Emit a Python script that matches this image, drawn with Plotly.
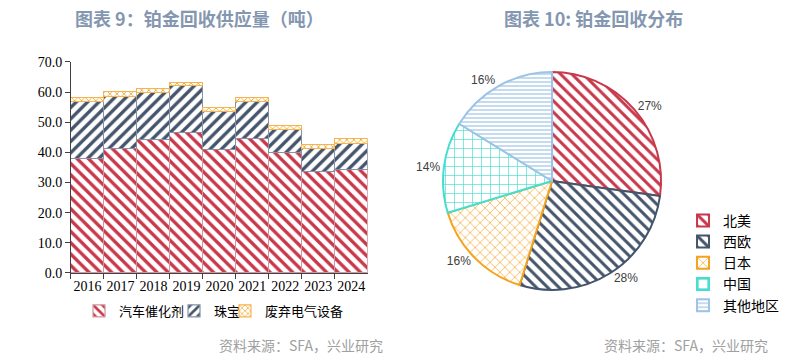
import plotly.graph_objects as go

years = ["2016", "2017", "2018", "2019", "2020", "2021", "2022", "2023", "2024"]
auto_catalyst = [37.7, 41.2, 44.1, 46.5, 40.8, 44.3, 39.9, 33.6, 34.2]
jewelry = [19.1, 17.3, 15.7, 15.5, 12.7, 12.5, 7.7, 7.6, 8.7]
electrical = [1.1, 1.4, 1.1, 1.2, 1.1, 1.3, 1.2, 1.3, 1.4]
bar_names = ["汽车催化剂", "珠宝", "废弃电气设备"]

regions = ["北美", "西欧", "日本", "中国", "其他地区"]
region_share = [27.2, 27.6, 15.5, 13.5, 16.2]
region_text = ["27%", "28%", "16%", "14%", "16%"]

RED = "#C8374A"
NAVY = "#44546A"
ORANGE = "#F5A21E"
CYAN = "#45DDD0"
LBLUE = "#9DC3E6"

fig = go.Figure()

bar_specs = [
    (auto_catalyst, bar_names[0], RED, "\\", 8, 0.42, "rgba(205,150,160,1)", "legend"),
    (jewelry, bar_names[1], NAVY, "/", 8, 0.42, "rgba(135,145,165,1)", "legend3"),
    (electrical, bar_names[2], ORANGE, "x", 5, 0.3, "rgba(245,180,80,1)", "legend4"),
]
for vals, name, col, shape, size, sol, lc, lg in bar_specs:
    fig.add_trace(go.Bar(
        x=years, y=vals, name=name, legend=lg,
        marker=dict(color="white", line=dict(color=lc, width=1.2),
                    pattern=dict(shape=shape, fgcolor=col, bgcolor="white",
                                 size=size, solidity=sol, fillmode="overlay",
                                 fgopacity=1)),
        xaxis="x", yaxis="y",
    ))

pie_colors = [RED, NAVY, ORANGE, CYAN, LBLUE]
pie_shapes = ["\\", "\\", "x", "+", "-"]
pie_sizes = [8, 8, 7, 9, 4]
pie_sol = [0.38, 0.38, 0.18, 0.14, 0.3]

fig.add_trace(go.Pie(
    labels=regions, values=region_share, text=region_text,
    textinfo="text", textposition="outside",
    textfont=dict(family="Liberation Sans", size=12, color="#404040"),
    sort=False, direction="clockwise", rotation=0,
    marker=dict(colors=["white"] * 5,
                line=dict(color=pie_colors, width=2),
                pattern=dict(shape=pie_shapes, fgcolor=pie_colors, bgcolor="white",
                             size=pie_sizes, solidity=pie_sol, fillmode="overlay",
                             fgopacity=1)),
    domain=dict(x=[0.5517, 0.8232], y=[0.2033, 0.8022]),
    legend="legend2", hoverinfo="label+percent",
))

leg_font = dict(family="Noto Sans CJK SC", size=13, color="#000000")
single_leg = lambda xx: dict(orientation="v", x=xx, y=0.146, xanchor="left", yanchor="middle",
                             font=leg_font, itemwidth=30, bgcolor="rgba(0,0,0,0)")

fig.update_layout(
    width=803, height=364,
    margin=dict(l=0, r=0, t=0, b=0),
    paper_bgcolor="white", plot_bgcolor="white",
    barmode="stack", bargap=0,
    showlegend=True,
    xaxis=dict(domain=[0.0884, 0.458], type="category", tickson="boundaries",
               showline=True, linecolor="#404040", linewidth=1,
               ticks="outside", ticklen=5, tickcolor="#404040", tickangle=0,
               tickfont=dict(family="Liberation Serif", size=14, color="#000000"),
               showgrid=False, zeroline=False, automargin=False),
    yaxis=dict(domain=[0.25, 0.8297], range=[0, 70], dtick=10, tickformat=".1f",
               showline=True, linecolor="#404040", linewidth=1,
               ticks="outside", ticklen=5, tickcolor="#404040",
               tickfont=dict(family="Liberation Serif", size=14, color="#000000"),
               showgrid=False, zeroline=False, automargin=False),
    legend=single_leg(0.0984),
    legend3=single_leg(0.2167),
    legend4=single_leg(0.2802),
    legend2=dict(orientation="v", x=0.8506, y=0.278, xanchor="left", yanchor="middle",
                 font=dict(family="Noto Sans CJK SC", size=14, color="#000000"),
                 itemwidth=30, bgcolor="rgba(0,0,0,0)"),
    annotations=[
        dict(text="<b>图表 9：铂金回收供应量（吨）</b>", x=0.249, y=0.95, xref="paper", yref="paper",
             xanchor="center", yanchor="middle", showarrow=False,
             font=dict(family="Noto Sans CJK SC", size=18, color="#8497B0")),
        dict(text="<b>图表 10: 铂金回收分布</b>", x=0.7395, y=0.95, xref="paper", yref="paper",
             xanchor="center", yanchor="middle", showarrow=False,
             font=dict(family="Noto Sans CJK SC", size=18, color="#8497B0")),
        dict(text="资料来源：SFA，兴业研究", x=0.48, y=0.052, xref="paper", yref="paper",
             xanchor="right", yanchor="middle", showarrow=False,
             font=dict(family="Noto Sans CJK SC", size=14, color="#A0A0A0")),
        dict(text="资料来源：SFA，兴业研究", x=0.959, y=0.052, xref="paper", yref="paper",
             xanchor="right", yanchor="middle", showarrow=False,
             font=dict(family="Noto Sans CJK SC", size=14, color="#A0A0A0")),
    ],
)

fig.write_html("out.html", config={"displayModeBar": False},
               post_script="document.body.style.margin='0';")
